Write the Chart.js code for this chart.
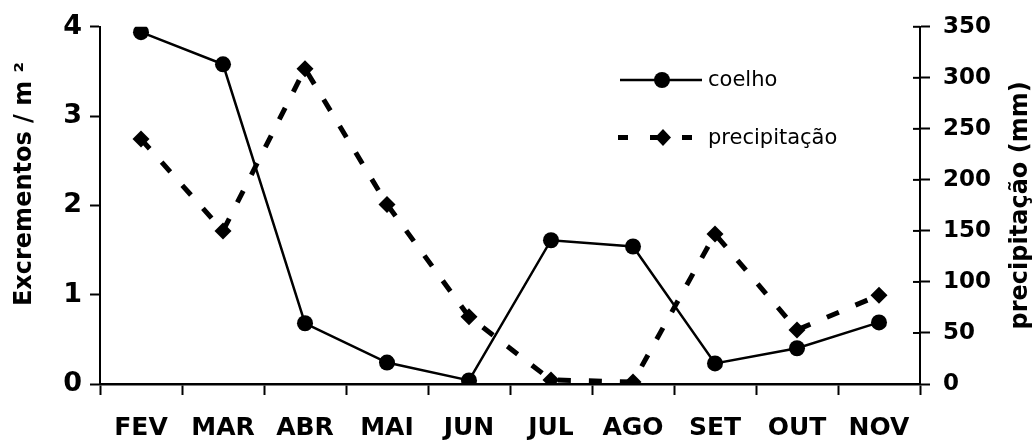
<!DOCTYPE html>
<html>
<head>
<meta charset="utf-8">
<script src="https://cdn.jsdelivr.net/npm/chart.js@4/dist/chart.umd.min.js"></script>
<style>
  html, body { margin: 0; padding: 0; background: #fff; }
  #wrap { width: 1035px; height: 441px; }
</style>
</head>
<body>
<div id="wrap"><canvas id="chart" width="1035" height="441"></canvas></div>
<script>
// Data
const months = ['FEV', 'MAR', 'ABR', 'MAI', 'JUN', 'JUL', 'AGO', 'SET', 'OUT', 'NOV'];
const coelho = [3.94, 3.58, 0.68, 0.24, 0.04, 1.61, 1.54, 0.23, 0.40, 0.69];
const precipitacao = [240, 150, 309, 176, 66, 4, 2, 147, 53, 87];
const leftTicks = [0, 1, 2, 3, 4];
const rightTicks = [0, 50, 100, 150, 200, 250, 300, 350];

const FONT = '"DejaVu Sans", Verdana, sans-serif';

// Axis titles, inner right ticks and the in-plot legend
const decorations = {
    id: 'decorations',
    afterDraw(chart) {
        const ctx = chart.ctx;
        const area = chart.chartArea;
        const y1 = chart.scales.y1;
        ctx.save();
        ctx.fillStyle = '#000';
        ctx.strokeStyle = '#000';

        // right axis ticks cross the axis line
        ctx.lineWidth = 2;
        rightTicks.forEach(v => {
            const py = y1.getPixelForValue(v);
            ctx.beginPath();
            ctx.moveTo(y1.left - 7, py);
            ctx.lineTo(y1.left, py);
            ctx.stroke();
        });

        ctx.textAlign = 'center';
        ctx.textBaseline = 'middle';

        // left title
        ctx.save();
        ctx.translate(25, 184);
        ctx.rotate(-Math.PI / 2);
        ctx.font = 'bold 24px ' + FONT;
        ctx.fillText('Excrementos / m \u00B2', 0, 0);
        ctx.restore();

        // right title
        ctx.save();
        ctx.translate(1021, (area.top + area.bottom) / 2);
        ctx.rotate(-Math.PI / 2);
        ctx.font = 'bold 24px ' + FONT;
        ctx.fillText('precipitação (mm)', 0, 0);
        ctx.restore();

        // legend: coelho
        ctx.lineWidth = 2.5;
        ctx.beginPath();
        ctx.moveTo(620, 80);
        ctx.lineTo(702, 80);
        ctx.stroke();
        ctx.beginPath();
        ctx.arc(662, 80, 8, 0, Math.PI * 2);
        ctx.fill();

        // legend: precipitação
        ctx.fillRect(618, 135, 10, 5);
        ctx.fillRect(650, 135, 8, 5);
        ctx.fillRect(682, 135, 10, 5);
        ctx.beginPath();
        ctx.moveTo(663, 129);
        ctx.lineTo(671, 137.5);
        ctx.lineTo(663, 146);
        ctx.lineTo(655, 137.5);
        ctx.closePath();
        ctx.fill();

        ctx.textAlign = 'left';
        ctx.font = '21px ' + FONT;
        ctx.fillText('coelho', 708, 81);
        ctx.fillText('precipitação', 708, 139);
        ctx.restore();
    }
};

new Chart(document.getElementById('chart'), {
    type: 'line',
    data: {
        labels: months,
        datasets: [
            {
                label: 'coelho',
                data: coelho,
                yAxisID: 'y',
                borderColor: '#000',
                backgroundColor: '#000',
                borderWidth: 2.5,
                pointStyle: 'circle',
                pointRadius: 8,
                pointBorderWidth: 0,
                tension: 0
            },
            {
                label: 'precipitação',
                data: precipitacao,
                yAxisID: 'y1',
                borderColor: '#000',
                backgroundColor: '#000',
                borderWidth: 5,
                borderDash: [13, 18],
                pointStyle: 'rectRot',
                pointRadius: 8.5,
                pointBorderWidth: 0,
                tension: 0
            }
        ]
    },
    options: {
        responsive: false,
        animation: false,
        layout: { padding: { top: 25, left: 0, right: 0, bottom: 0 } },
        plugins: {
            legend: { display: false },
            tooltip: { enabled: false }
        },
        scales: {
            x: {
                offset: true,
                grid: {
                    offset: true,
                    drawOnChartArea: false,
                    drawTicks: true,
                    tickLength: 11,
                    tickWidth: 2,
                    color: '#000'
                },
                border: { display: true, color: '#000', width: 2.5 },
                ticks: {
                    color: '#000',
                    padding: 18,
                    maxRotation: 0,
                    font: { family: FONT, size: 25, weight: 'bold' }
                },
                afterFit(scale) { scale.height = 57; }
            },
            y: {
                position: 'left',
                min: 0,
                max: 4,
                afterBuildTicks(scale) { scale.ticks = leftTicks.map(v => ({ value: v })); },
                grid: {
                    drawOnChartArea: false,
                    tickLength: 10,
                    tickWidth: 2,
                    color: '#000'
                },
                border: { display: true, color: '#000', width: 2 },
                ticks: {
                    color: '#000',
                    padding: 8,
                    font: { family: FONT, size: 27, weight: 'bold' }
                },
                afterFit(scale) { scale.width = 100; }
            },
            y1: {
                position: 'right',
                min: 0,
                max: 350,
                afterBuildTicks(scale) { scale.ticks = rightTicks.map(v => ({ value: v })); },
                grid: {
                    drawOnChartArea: false,
                    tickLength: 10,
                    tickWidth: 2,
                    color: '#000'
                },
                border: { display: true, color: '#000', width: 2 },
                ticks: {
                    color: '#000',
                    padding: 13,
                    font: { family: FONT, size: 23, weight: 'bold' }
                },
                afterFit(scale) { scale.width = 115; }
            }
        }
    },
    plugins: [decorations]
});
</script>
</body>
</html>
